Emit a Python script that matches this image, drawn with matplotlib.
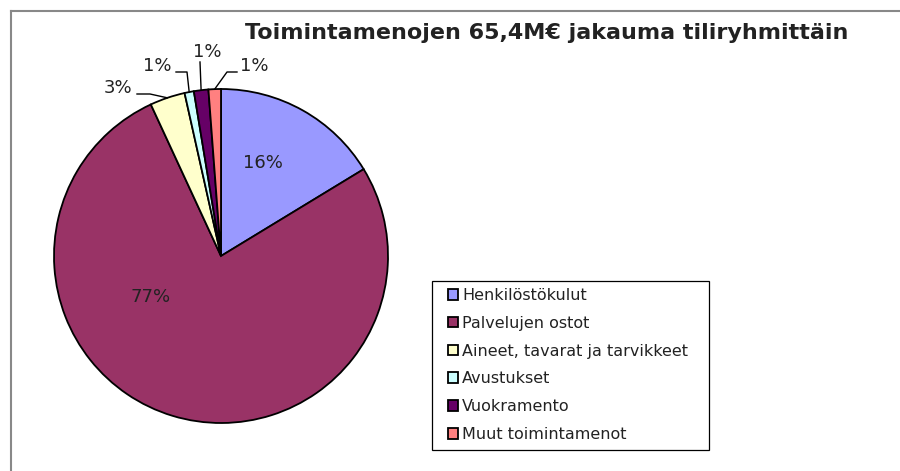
import matplotlib.pyplot as plt
import numpy as np
from matplotlib.patches import Rectangle

categories = ["Henkilöstökulut", "Palvelujen ostot", "Aineet, tavarat ja tarvikkeet",
              "Avustukset", "Vuokramento", "Muut toimintamenot"]
shares = [16.3, 76.8, 3.4, 0.9, 1.4, 1.2]
pct_labels = ["16%", "77%", "3%", "1%", "1%", "1%"]
colors = ["#9999FF", "#993366", "#FFFFCC", "#CCFFFF", "#660066", "#FF8080"]

W, H = 900, 471
fig = plt.figure(figsize=(9, 4.71), dpi=100)
fig.patch.set_facecolor("white")
ax = fig.add_axes([0, 0, 1, 1])

cx, cy, r = 221, H - 256, 167
wedges, _ = ax.pie(shares, colors=colors, startangle=90, counterclock=False,
                   center=(cx, cy), radius=r,
                   wedgeprops=dict(edgecolor="black", linewidth=1.3))
ax.set_xlim(0, W)
ax.set_ylim(0, H)
ax.set_aspect("equal")
ax.axis("off")

# label positions in pixels (top-down y)
label_pos = [(263, 163), (151, 297), (118, 88), (157, 66), (207, 52), (254, 66)]
# leader elbows for the small slices: (line start x, elbow x, elbow y)
elbows = {2: (137, 150, 94), 3: (176, 187, 72), 4: (200, 200, 62), 5: (237, 227, 72)}
for i, (w, lab) in enumerate(zip(wedges, pct_labels)):
    lx, ly = label_pos[i]
    ax.text(lx, H - ly, lab, ha="center", va="center", fontsize=13,
            family="DejaVu Sans", color="#222222")
    if i in elbows:
        mid = np.deg2rad((w.theta1 + w.theta2) / 2)
        ex, ey = cx + r * np.cos(mid), cy + r * np.sin(mid)
        sx, kx, ky = elbows[i]
        ax.plot([sx, kx, ex], [H - ky, H - ky, ey], color="black", lw=1.0)

fig.text(547 / W, 1 - 33 / H, "Toimintamenojen 65,4M€ jakauma tiliryhmittäin",
         ha="center", va="center", fontsize=16, fontweight="bold",
         family="DejaVu Sans", color="#222222")

# legend box drawn separately so the entries can sit inset like the original
ax.add_patch(Rectangle((432, H - 450), 277, 169, facecolor="white",
                       edgecolor="black", linewidth=0.9, zorder=4))
leg = ax.legend(wedges, categories, loc="upper left",
                bbox_to_anchor=(448 / W, 1 - 288 / H),
                bbox_transform=fig.transFigure,
                fontsize=11.5, frameon=False,
                handlelength=0.65, handleheight=0.65, handletextpad=0.25,
                labelspacing=0.8, borderpad=0, borderaxespad=0)
leg.set_zorder(5)
for t in leg.get_texts():
    t.set_color("#222222")

# outer chart frame (top and left edges visible)
fig.add_artist(plt.Line2D([10.5 / W, 1], [1 - 10.5 / H, 1 - 10.5 / H],
                          transform=fig.transFigure, color="#888888", lw=1.5))
fig.add_artist(plt.Line2D([10.5 / W, 10.5 / W], [0, 1 - 10.5 / H],
                          transform=fig.transFigure, color="#888888", lw=1.5))

fig.savefig("out.png", dpi=100)
